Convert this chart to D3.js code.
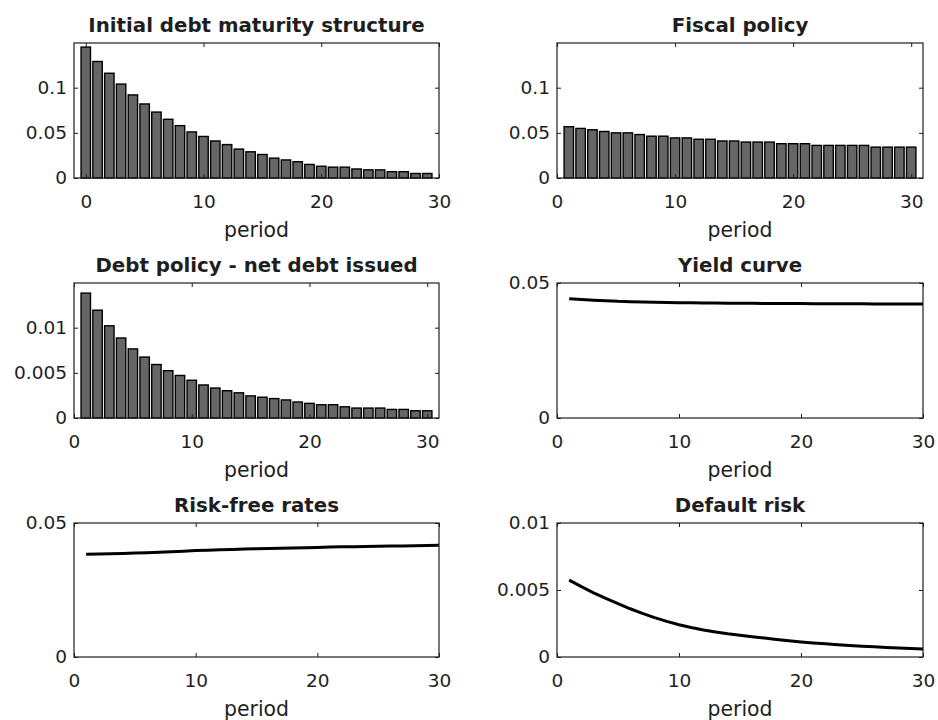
<!DOCTYPE html>
<html>
<head>
<meta charset="utf-8">
<script src="https://cdn.jsdelivr.net/npm/d3@7"></script>
<style>
  html, body { margin: 0; padding: 0; background: #ffffff; }
  svg { display: block; }
  text { font-family: "DejaVu Sans", "Liberation Sans", Arial, sans-serif; fill: #1e1e1e; }
</style>
</head>
<body>
<svg id="chart" width="938" height="720"></svg>
<script>
// ---- data ----
const maturityPeriods = d3.range(0, 30);            // 0 .. 29
const policyPeriods = d3.range(1, 31);              // 1 .. 30

const initialDebt = [0.145, 0.129, 0.116, 0.104, 0.092, 0.082, 0.073, 0.065, 0.058, 0.051,
                     0.046, 0.041, 0.037, 0.032, 0.029, 0.026, 0.022, 0.020, 0.018, 0.015,
                     0.013, 0.012, 0.012, 0.010, 0.009, 0.009, 0.007, 0.007, 0.005, 0.005];

const fiscalPolicy = [0.0568, 0.0549, 0.0534, 0.0515, 0.0500, 0.0500, 0.0481, 0.0463, 0.0463, 0.0444,
                      0.0444, 0.0429, 0.0429, 0.0410, 0.0410, 0.0398, 0.0398, 0.0398, 0.0380, 0.0380,
                      0.0380, 0.0361, 0.0361, 0.0361, 0.0361, 0.0361, 0.0342, 0.0342, 0.0342, 0.0342];

const netDebtIssued = [0.01383, 0.01194, 0.01021, 0.00886, 0.00765, 0.00675, 0.00592, 0.00524, 0.00471, 0.00418,
                       0.00366, 0.00332, 0.00302, 0.00279, 0.00245, 0.00230, 0.00215, 0.00200, 0.00177, 0.00162,
                       0.00147, 0.00147, 0.00124, 0.00110, 0.00110, 0.00110, 0.00095, 0.00095, 0.00080, 0.00080];

const yieldCurve = [0.0442, 0.0439, 0.0436, 0.0434, 0.0432, 0.0431, 0.0430, 0.0429, 0.0428, 0.0427,
                    0.0427, 0.0426, 0.0426, 0.0425, 0.0425, 0.0425, 0.0424, 0.0424, 0.0424, 0.0424,
                    0.0423, 0.0423, 0.0423, 0.0423, 0.0423, 0.0422, 0.0422, 0.0422, 0.0422, 0.0422];

const riskFreeRates = [0.0383, 0.0384, 0.0385, 0.0386, 0.0388, 0.0389, 0.0391, 0.0393, 0.0395, 0.0397,
                       0.0398, 0.0400, 0.0401, 0.0403, 0.0404, 0.0405, 0.0406, 0.0407, 0.0408, 0.0409,
                       0.0410, 0.0411, 0.0411, 0.0412, 0.0413, 0.0414, 0.0414, 0.0415, 0.0416, 0.0417];

const defaultRisk = [0.00574, 0.00525, 0.00479, 0.00437, 0.00399, 0.00360, 0.00325, 0.00294, 0.00266, 0.00241,
                     0.00220, 0.00202, 0.00187, 0.00173, 0.00163, 0.00151, 0.00141, 0.00131, 0.00121, 0.00112,
                     0.00105, 0.00098, 0.00092, 0.00086, 0.00081, 0.00076, 0.00071, 0.00067, 0.00063, 0.00059];

const xTicks = [0, 10, 20, 30];
const shareTicks = [0, 0.05, 0.1];
const smallShareTicks = [0, 0.005, 0.01];
const rateTicks = [0, 0.05];
const xLabel = "period";

// ---- layout ----
const svg = d3.select("#chart");
const cols = [[74, 439], [557, 923]];
const rows = [[43, 178], [283, 418], [523, 657]];
const ink = "#1e1e1e";

const panels = [
  { title: "Initial debt maturity structure", col: 0, row: 0, kind: "bar",
    xs: maturityPeriods, ys: initialDebt, xDomain: [-1, 30], yDomain: [0, 0.1495], yTicks: shareTicks },
  { title: "Fiscal policy", col: 1, row: 0, kind: "bar",
    xs: policyPeriods, ys: fiscalPolicy, xDomain: [0, 31], yDomain: [0, 0.1495], yTicks: shareTicks },
  { title: "Debt policy - net debt issued", col: 0, row: 1, kind: "bar",
    xs: policyPeriods, ys: netDebtIssued, xDomain: [0, 31], yDomain: [0, 0.01495], yTicks: smallShareTicks },
  { title: "Yield curve", col: 1, row: 1, kind: "line",
    xs: policyPeriods, ys: yieldCurve, xDomain: [0, 30], yDomain: [0, 0.05], yTicks: rateTicks },
  { title: "Risk-free rates", col: 0, row: 2, kind: "line",
    xs: policyPeriods, ys: riskFreeRates, xDomain: [0, 30], yDomain: [0, 0.05], yTicks: rateTicks },
  { title: "Default risk", col: 1, row: 2, kind: "line",
    xs: policyPeriods, ys: defaultRisk, xDomain: [0, 30], yDomain: [0, 0.01], yTicks: smallShareTicks }
];

const fmt = d3.format("~g");

panels.forEach(p => {
  const [x0, x1] = cols[p.col];
  const [y0, y1] = rows[p.row];
  const x = d3.scaleLinear().domain(p.xDomain).range([x0, x1]);
  const y = d3.scaleLinear().domain(p.yDomain).range([y1, y0]);
  const g = svg.append("g");

  // marks
  if (p.kind === "bar") {
    const bw = x(0.8) - x(0);
    g.append("g").selectAll("rect")
      .data(p.xs.map((d, i) => ({ x: d, v: p.ys[i] })))
      .join("rect")
        .attr("x", d => x(d.x) - bw / 2)
        .attr("y", d => y(d.v))
        .attr("width", bw)
        .attr("height", d => y(0) - y(d.v))
        .attr("fill", "#666666")
        .attr("stroke", "#000")
        .attr("stroke-width", 1.4);
  } else {
    const line = d3.line().x((d, i) => x(p.xs[i])).y(d => y(d));
    g.append("path")
      .datum(p.ys)
      .attr("d", line)
      .attr("fill", "none")
      .attr("stroke", "#000")
      .attr("stroke-width", 3)
      .attr("stroke-linejoin", "round");
  }

  // axes with inward ticks, mirrored on top and right
  const styleAxis = sel => {
    sel.select(".domain").remove();
    sel.selectAll(".tick line").attr("stroke", ink).attr("stroke-width", 1);
    sel.selectAll(".tick text").attr("fill", ink)
      .style("font-family", "'DejaVu Sans', 'Liberation Sans', Arial, sans-serif");
  };

  g.append("g").attr("transform", `translate(0,${y1})`)
    .call(d3.axisBottom(x).tickValues(xTicks).tickFormat(fmt)
      .tickSizeInner(-4).tickSizeOuter(0).tickPadding(17))
    .call(styleAxis)
    .selectAll("text").style("font-size", "18.5px");

  g.append("g").attr("transform", `translate(0,${y0})`)
    .call(d3.axisTop(x).tickValues(xTicks).tickFormat("")
      .tickSizeInner(-4).tickSizeOuter(0))
    .call(styleAxis);

  g.append("g").attr("transform", `translate(${x0},0)`)
    .call(d3.axisLeft(y).tickValues(p.yTicks).tickFormat(fmt)
      .tickSizeInner(-4).tickSizeOuter(0).tickPadding(7))
    .call(styleAxis)
    .selectAll("text").style("font-size", "18.5px");

  g.append("g").attr("transform", `translate(${x1},0)`)
    .call(d3.axisRight(y).tickValues(p.yTicks).tickFormat("")
      .tickSizeInner(-4).tickSizeOuter(0))
    .call(styleAxis);

  // frame
  g.append("rect")
    .attr("x", x0).attr("y", y0)
    .attr("width", x1 - x0).attr("height", y1 - y0)
    .attr("fill", "none").attr("stroke", ink).attr("stroke-width", 1.2);

  // title and x label
  g.append("text")
    .attr("x", (x0 + x1) / 2).attr("y", y0 - 11)
    .attr("text-anchor", "middle")
    .style("font-size", "19.8px").style("font-weight", "bold")
    .attr("fill", "#000")
    .text(p.title);

  g.append("text")
    .attr("x", (x0 + x1) / 2).attr("y", y1 + 59)
    .attr("text-anchor", "middle")
    .style("font-size", "20.4px")
    .text(xLabel);
});
</script>
</body>
</html>
